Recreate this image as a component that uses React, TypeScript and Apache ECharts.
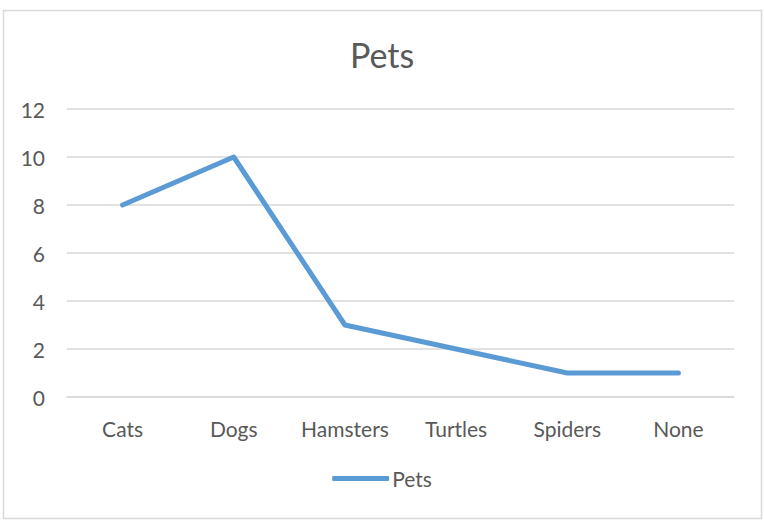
import React, { useEffect, useRef } from "react";
import * as echarts from "echarts";

const categories = ["Cats", "Dogs", "Hamsters", "Turtles", "Spiders", "None"];
const petCounts = [8, 10, 3, 2, 1, 1];
const seriesName = "Pets";
const chartTitle = "Pets";

const FONT = "Lato, 'Liberation Sans', sans-serif";
const TEXT = "#595959";

export default function App() {
  const ref = useRef<HTMLDivElement>(null);

  useEffect(() => {
    if (!ref.current) return;
    const chart = echarts.init(ref.current, undefined, { renderer: "svg" });
    chart.setOption({
      animation: false,
      backgroundColor: "#ffffff",
      textStyle: { fontFamily: FONT },
      title: {
        text: chartTitle,
        left: "center",
        top: 32,
        textStyle: { fontFamily: FONT, fontSize: 34, fontWeight: "normal", color: TEXT },
      },
      graphic: [
        {
          type: "rect",
          shape: { x: 3.5, y: 10.5, width: 758, height: 508 },
          style: { fill: "none", stroke: "#d9d9d9", lineWidth: 1.5 },
          silent: true,
        },
      ],
      legend: {
        bottom: 30,
        left: "center",
        itemWidth: 57,
        itemHeight: 5,
        itemGap: 4,
        icon: "roundRect",
        textStyle: { fontFamily: FONT, fontSize: 21, color: TEXT, padding: [0, 0, 0, -2] },
        data: [seriesName],
      },
      grid: { left: 67, right: 30, top: 109, bottom: 127, containLabel: false },
      xAxis: {
        type: "category",
        data: categories,
        boundaryGap: true,
        axisLine: { show: true, lineStyle: { color: "#d9d9d9", width: 1.5 } },
        axisTick: { show: false },
        axisLabel: {
          interval: 0,
          hideOverlap: false,
          margin: 21,
          fontFamily: FONT,
          fontSize: 21,
          color: TEXT,
        },
      },
      yAxis: {
        type: "value",
        min: 0,
        max: 12,
        interval: 2,
        axisLine: { show: false },
        axisTick: { show: false },
        splitLine: { lineStyle: { color: "#d9d9d9", width: 1.5 } },
        axisLabel: { margin: 22, fontFamily: FONT, fontSize: 21, color: TEXT },
      },
      series: [
        {
          name: seriesName,
          type: "line",
          data: petCounts,
          showSymbol: false,
          symbol: "none",
          lineStyle: { color: "#5b9bd5", width: 5, cap: "round", join: "round" },
          itemStyle: { color: "#5b9bd5" },
        },
      ],
    });
    return () => chart.dispose();
  }, []);

  return (
    <div
      ref={ref}
      style={{ position: "fixed", left: 0, top: 0, width: 764, height: 524 }}
    />
  );
}
